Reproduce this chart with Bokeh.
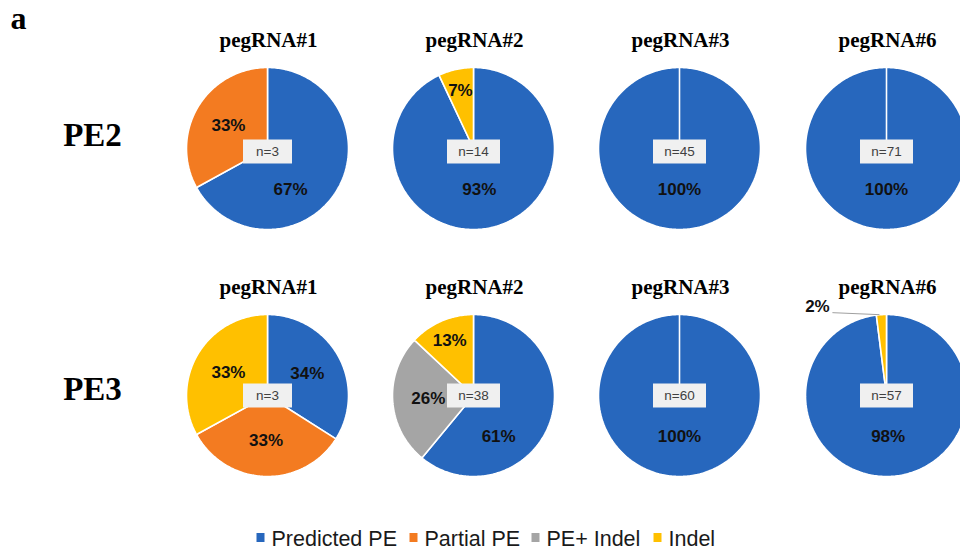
import numpy as np
from bokeh.plotting import figure
from bokeh.models import Range1d
from bokeh.core.properties import value
from bokeh.embed import file_html
from bokeh.resources import INLINE

# ---------------- data ----------------
categories = ["Predicted PE", "Partial PE", "PE+ Indel", "Indel"]
pegrnas = ["pegRNA#1", "pegRNA#2", "pegRNA#3", "pegRNA#6"]
editors = ["PE2", "PE3"]
pe2_values = [[67, 33, 0, 0], [93, 0, 0, 7], [100, 0, 0, 0], [100, 0, 0, 0]]
pe3_values = [[34, 33, 0, 33], [61, 0, 26, 13], [100, 0, 0, 0], [98, 0, 0, 2]]
pe2_n = [3, 14, 45, 71]
pe3_n = [3, 38, 60, 57]

# ---------------- style / layout ----------------
colors = ["#2767BD", "#F37B21", "#A5A5A5", "#FFC000"]
IMG_H = 553
COL_X = [267, 473, 679, 886]
ROW_Y = [148, 395]
BOX_DY = [3, 0]
R = 81
SERIF = value("Liberation Serif")
SANS = value("Liberation Sans")


def Y(y):
    return IMG_H - y


p = figure(width=960, height=553, x_range=Range1d(0, 960), y_range=Range1d(0, 553),
           output_backend="svg", toolbar_location=None, min_border=0,
           x_axis_location=None, y_axis_location=None, outline_line_color=None)
p.grid.visible = False
p.background_fill_color = "white"
p.border_fill_color = "white"

rows = [(pe2_values, pe2_n), (pe3_values, pe3_n)]

xs, ys, fills = [], [], []
lab_x, lab_y, lab_t = [], [], []
lead_xs, lead_ys = [], []
out_x, out_y, out_t = [], [], []
box_x, box_y, box_w = [], [], []
n_x, n_y, n_t = [], [], []
tit_x, tit_y, tit_t = [], [], []

for ri, (vals, ns) in enumerate(rows):
    cy = ROW_Y[ri]
    for ci, v in enumerate(vals):
        cx = COL_X[ci]
        total = float(sum(v))
        c0 = 0.0
        for k, val in enumerate(v):
            if val <= 0:
                continue
            f = val / total
            c1 = c0 + f
            t = np.linspace(2 * np.pi * c0, 2 * np.pi * c1, max(8, int(360 * f)))
            px = cx + R * np.sin(t)
            py = cy - R * np.cos(t)
            xs.append([cx] + list(px) + [cx])
            ys.append([Y(cy)] + [Y(q) for q in py] + [Y(cy)])
            fills.append(colors[k])
            th = 2 * np.pi * (c0 + f / 2)
            dx, dy = np.sin(th), -np.cos(th)
            if f >= 0.5:
                lab_x.append(cx + 0.33 * R * dx)
                lab_y.append(Y(cy + 0.5 * R))
                lab_t.append(f"{val}%")
            elif f >= 0.05:
                kk = 0.56 if f >= 0.2 else 0.74
                lab_x.append(cx + kk * R * dx)
                lab_y.append(Y(cy + kk * R * dy))
                lab_t.append(f"{val}%")
            else:
                ex, ey = cx + R * dx, cy + R * dy
                lead_xs.append([ex - 2, ex - 49])
                lead_ys.append([Y(ey), Y(ey - 2)])
                out_x.append(ex - 64)
                out_y.append(Y(ey - 8))
                out_t.append(f"{val}%")
            c0 = c1
        txt = f"n={ns[ci]}"
        box_x.append(cx)
        box_y.append(Y(cy + BOX_DY[ri]))
        box_w.append(37 + 4 * len(txt))
        n_x.append(cx)
        n_y.append(Y(cy + BOX_DY[ri]))
        n_t.append(txt)
        tit_x.append(cx + 1)
        tit_y.append(Y(cy - 109))
        tit_t.append(pegrnas[ci])

p.patches(xs, ys, fill_color=fills, line_color="white", line_width=1.6)
p.multi_line(lead_xs, lead_ys, line_color="#A0A0A0", line_width=1)
p.rect(box_x, box_y, width=box_w, height=24, fill_color="#F0F0F0", line_color=None)
p.text(n_x, n_y, text=n_t, text_font=SANS, text_font_size="13.5px", text_color="#404040",
       text_align="center", text_baseline="middle")
p.text(lab_x, lab_y, text=lab_t, text_font=SANS, text_font_size="17px", text_font_style="bold",
       text_color="#111111", text_align="center", text_baseline="middle")
p.text(out_x, out_y, text=out_t, text_font=SANS, text_font_size="17px", text_font_style="bold",
       text_color="#111111", text_align="center", text_baseline="middle")
p.text(tit_x, tit_y, text=tit_t, text_font=SERIF, text_font_size="21px", text_font_style="bold",
       text_color="black", text_align="center", text_baseline="middle")

# row labels and panel letter
p.text([92, 92], [Y(ROW_Y[0] - 14), Y(ROW_Y[1] - 7)], text=editors, text_font=SERIF,
       text_font_size="33px", text_font_style="bold", text_color="black",
       text_align="center", text_baseline="middle")
p.text([18], [Y(17)], text=["a"], text_font=SERIF, text_font_size="32px",
       text_font_style="bold", text_color="black", text_align="center", text_baseline="middle")

# legend
LEG_X = [260, 413, 535, 657]
LEG_Y = 537
p.rect(LEG_X, [Y(LEG_Y)] * 4, width=8, height=9, fill_color=colors, line_color=None)
p.text([x + 11 for x in LEG_X], [Y(LEG_Y + 1)] * 4, text=categories, text_font=SANS,
       text_font_size="21.5px", text_color="#1a1a1a", text_align="left", text_baseline="middle")

open("out.html", "w").write(file_html(p, INLINE))
